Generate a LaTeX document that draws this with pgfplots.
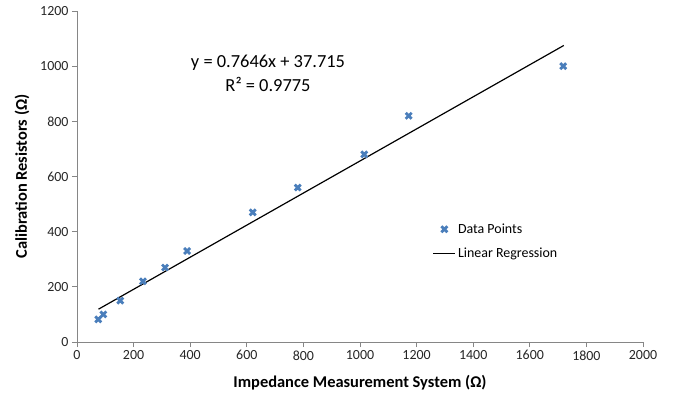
\documentclass[border=0pt]{standalone}
\usepackage{fontspec}
\setmainfont{Carlito}
\usepackage{pgfplots}
\pgfplotsset{compat=1.18}
\definecolor{mblue}{HTML}{4A7EBB}
\definecolor{axgray}{HTML}{868686}
\pgfplotsset{
  reglegend/.style={legend image code/.code={\draw[##1] (0bp,0bp) -- (22bp,0bp);}},
  markslegend/.style={legend image code/.code={\draw[mark repeat=2,mark phase=2,##1] plot coordinates {(0bp,0bp) (11bp,0bp) (22bp,0bp)};}},
}
\begin{document}
\begin{tikzpicture}[x=1bp,y=1bp]
\useasboundingbox (-77,-53) rectangle (606,342);
\begin{axis}[
  at={(0,0)}, anchor=south west,
  scale only axis, width=566bp, height=331bp,
  xmin=0, xmax=2000, ymin=0, ymax=1200,
  xtick distance=200, ytick distance=200,
  axis x line*=bottom, axis y line*=left,
  axis line style={axgray, line width=0.75pt, -},
  tick style={axgray, line width=0.75pt},
  tick align=outside, major tick length=5bp,
  ticklabel style={font=\fontsize{14}{16}\selectfont, text=black!85},
  /pgf/number format/assume math mode=true,
  /pgf/number format/1000 sep={},
  xlabel={\textbf{Impedance Measurement System (Ω)}},
  ylabel={\textbf{Calibration Resistors (Ω)}},
  xlabel style={at={(axis description cs:0.5,-0.124)}, anchor=center, font=\fontsize{16.5}{18}\selectfont},
  ylabel style={at={(axis description cs:-0.0972,0.5)}, anchor=center, font=\fontsize{16.5}{18}\selectfont},
  legend style={at={(axis description cs:0.623,0.37)}, anchor=north west, draw=none, fill=none,
    font=\fontsize{14}{16}\selectfont, row sep=9bp},
  legend cell align=left,
]
\addplot[only marks, mark=x, mark size=4.2bp, mark options={mblue, line width=2.8pt}, markslegend] coordinates {
(75,82) (93,100) (153,150) (233,220) (311,270) (389,330) (621,470) (780,560) (1015,680) (1172,820) (1718,1000)
};
\addlegendentry{Data Points}
\addplot[black, line width=1.2pt, no marks, reglegend] coordinates {(76,119) (1720,1075)};
\addlegendentry{Linear Regression}
\node[font=\fontsize{18.5}{20}\selectfont] at (axis cs:675,1014) {y = 0.7646x + 37.715};
\node[font=\fontsize{18.5}{20}\selectfont] at (axis cs:675,935) {R² = 0.9775};
\end{axis}
\end{tikzpicture}
\end{document}
